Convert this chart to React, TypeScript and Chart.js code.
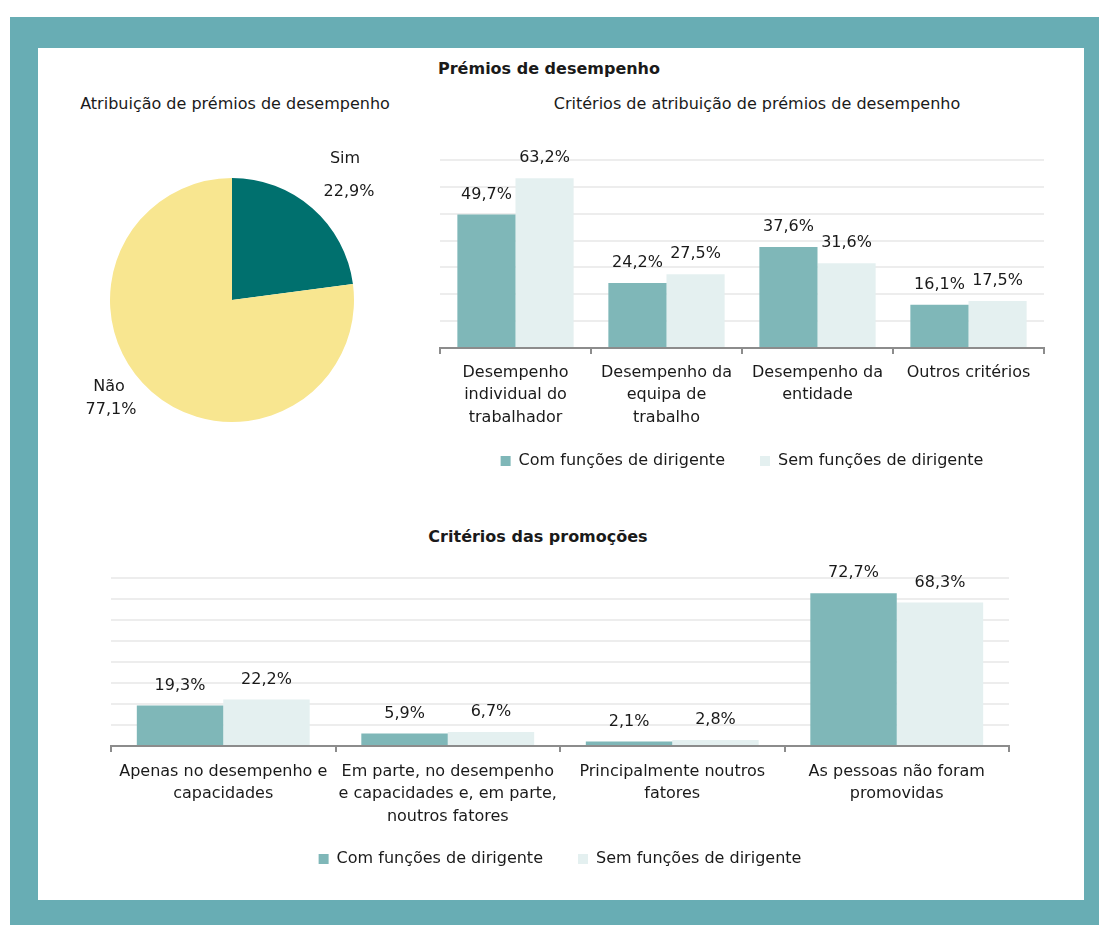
import React, { useEffect, useRef } from "react";
import { Chart, registerables } from "chart.js";

Chart.register(...registerables);

const FONT = "'DejaVu Sans', Verdana, sans-serif";
Chart.defaults.font.family = FONT;
Chart.defaults.font.size = 16;
Chart.defaults.color = "#1a1a1a";

// ---- Data ----
const pieLabels = ["Sim", "Não"];
const pieValues = [22.9, 77.1];

const premiosCategories = [
  ["Desempenho", "individual do", "trabalhador"],
  ["Desempenho da", "equipa de", "trabalho"],
  ["Desempenho da", "entidade"],
  ["Outros critérios"],
];
const premiosCom = [49.7, 24.2, 37.6, 16.1];
const premiosSem = [63.2, 27.5, 31.6, 17.5];

const promoCategories = [
  ["Apenas no desempenho e", "capacidades"],
  ["Em parte, no desempenho", "e capacidades e, em parte,", "noutros fatores"],
  ["Principalmente noutros", "fatores"],
  ["As pessoas não foram", "promovidas"],
];
const promoCom = [19.3, 5.9, 2.1, 72.7];
const promoSem = [22.2, 6.7, 2.8, 68.3];

const seriesNames = ["Com funções de dirigente", "Sem funções de dirigente"];

// ---- Colors ----
const COM = "#7fb7b8";
const SEM = "#e4f0f0";
const PIE_COLORS = ["#00706e", "#f8e690"];
const FRAME = "#68adb4";

const fmt = (v: number) => v.toFixed(1).replace(".", ",") + "%";

const barLabelPlugin = {
  id: "barLabels",
  afterDatasetsDraw(chart: any) {
    const ctx = chart.ctx;
    ctx.save();
    ctx.font = `16px ${FONT}`;
    ctx.fillStyle = "#1a1a1a";
    ctx.textAlign = "center";
    ctx.textBaseline = "middle";
    chart.data.datasets.forEach((ds: any, di: number) => {
      const meta = chart.getDatasetMeta(di);
      meta.data.forEach((bar: any, i: number) => {
        ctx.fillText(fmt(ds.data[i]), bar.x, bar.y - 20);
      });
    });
    ctx.restore();
  },
};

// moves the legend up a little after layout (legend padding also sets the item gap)
const legendShiftPlugin = {
  id: "legendShift",
  afterLayout(chart: any, _args: any, opts: any) {
    const lg = chart.legend;
    if (lg && opts && opts.shift) {
      lg.top -= opts.shift;
      lg.bottom -= opts.shift;
    }
  },
};

const pieLabelPlugin = {
  id: "pieLabels",
  afterDatasetsDraw(chart: any, _args: any, opts: any) {
    const ctx = chart.ctx;
    const meta = chart.getDatasetMeta(0);
    ctx.save();
    ctx.font = `16px ${FONT}`;
    ctx.fillStyle = "#1a1a1a";
    ctx.textAlign = "center";
    ctx.textBaseline = "middle";
    meta.data.forEach((arc: any, i: number) => {
      const mid = (arc.startAngle + arc.endAngle) / 2;
      const r = arc.outerRadius + opts.offset;
      const adj = opts.adjust[i];
      const cx = arc.x + Math.cos(mid) * r + adj.dx;
      const cy = arc.y + Math.sin(mid) * r + adj.dy;
      const gap = adj.gap;
      ctx.fillText(chart.data.labels[i], cx + adj.nameDx, cy - gap / 2);
      ctx.fillText(fmt(chart.data.datasets[0].data[i]), cx, cy + gap / 2);
    });
    ctx.restore();
  },
};

function PieChart() {
  const ref = useRef<HTMLCanvasElement>(null);
  useEffect(() => {
    const chart = new Chart(ref.current!, {
      type: "pie",
      data: {
        labels: pieLabels,
        datasets: [{ data: pieValues, backgroundColor: PIE_COLORS, borderWidth: 0 }],
      },
      options: {
        animation: false,
        responsive: false,
        maintainAspectRatio: false,
        layout: { padding: 48 },
        plugins: {
          legend: { display: false },
          tooltip: { enabled: false },
          pieLabels: {
            offset: 48,
            adjust: [
              { dx: 5, dy: 3, gap: 33, nameDx: -4 },
              { dx: -9, dy: -30, gap: 23, nameDx: -2 },
            ],
          },
        } as any,
      },
      plugins: [pieLabelPlugin],
    });
    return () => chart.destroy();
  }, []);
  return <canvas ref={ref} width={340} height={340} />;
}

function BarWrapper(props: any) {
  const ref = useRef<HTMLCanvasElement>(null);
  useEffect(() => {
    const chart = new Chart(ref.current!, {
      type: "bar",
      data: {
        labels: props.categories,
        datasets: [
          { label: seriesNames[0], data: props.com, backgroundColor: COM, borderWidth: 0 },
          { label: seriesNames[1], data: props.sem, backgroundColor: SEM, borderWidth: 0 },
        ],
      },
      options: {
        animation: false,
        responsive: false,
        maintainAspectRatio: false,
        layout: { padding: props.padding },
        datasets: { bar: { categoryPercentage: 0.77, barPercentage: 1 } },
        plugins: {
          legend: {
            position: "bottom",
            labels: {
              boxWidth: 10,
              boxHeight: 10,
              padding: 35,
              font: { size: 16, family: FONT },
              color: "#1a1a1a",
            },
          },
          legendShift: { shift: props.legendShift },
          tooltip: { enabled: false },
          title: { display: false },
        } as any,
        scales: {
          x: {
            grid: {
              display: true,
              drawOnChartArea: false,
              drawTicks: true,
              tickLength: 6,
              color: "#8c8c8c",
              lineWidth: 2,
            },
            border: { display: true, color: "#8c8c8c", width: 2 },
            ticks: {
              padding: props.tickPad,
              font: { size: 16, family: FONT, lineHeight: 1.42 },
              color: "#1a1a1a",
              maxRotation: 0,
              autoSkip: false,
            },
            afterFit: (s: any) => {
              s.height = props.axisHeight;
            },
          },
          y: {
            min: 0,
            max: props.max,
            ticks: { display: false, stepSize: 10 },
            border: { display: false },
            grid: { color: "#ededed", lineWidth: 2, drawTicks: false },
            afterFit: (s: any) => {
              s.width = 0;
            },
          },
        },
      },
      plugins: [barLabelPlugin, legendShiftPlugin],
    });
    return () => chart.destroy();
  }, []);
  return <canvas ref={ref} width={props.w} height={props.h} />;
}

const abs = (left: number, top: number, width: number, height: number): React.CSSProperties => ({
  position: "absolute",
  left,
  top,
  width,
  height,
});

const titleStyle = (cx: number, cy: number, bold: boolean): React.CSSProperties => ({
  position: "absolute",
  left: cx - 300,
  top: cy - 10,
  width: 600,
  height: 20,
  lineHeight: "20px",
  textAlign: "center",
  fontFamily: FONT,
  fontSize: 16,
  fontWeight: bold ? "bold" : "normal",
  color: "#1a1a1a",
  whiteSpace: "nowrap",
});

export default function App() {
  return (
    <div style={{ position: "absolute", left: 0, top: 0, width: 1099, height: 925, background: "#fff", overflow: "hidden" }}>
      <div style={{ ...abs(10, 17, 1089, 908), background: FRAME }} />
      <div style={{ ...abs(38, 48, 1046, 852), background: "#fff" }} />
      <div style={titleStyle(549, 69, true)}>Prémios de desempenho</div>
      <div style={titleStyle(235, 104, false)}>Atribuição de prémios de desempenho</div>
      <div style={titleStyle(757, 104, false)}>Critérios de atribuição de prémios de desempenho</div>
      <div style={titleStyle(538, 537, true)}>Critérios das promoções</div>
      <div style={abs(62, 130, 340, 340)}>
        <PieChart />
      </div>
      <div style={abs(430, 130, 630, 362)}>
        <BarWrapper
          w={630}
          h={362}
          categories={premiosCategories}
          com={premiosCom}
          sem={premiosSem}
          max={70}
          padding={{ left: 10, right: 16, top: 30, bottom: 1 }}
          axisHeight={82}
          tickPad={7}
          legendShift={12}
        />
      </div>
      <div style={abs(101, 560, 918, 332)}>
        <BarWrapper
          w={918}
          h={332}
          categories={promoCategories}
          com={promoCom}
          sem={promoSem}
          max={80}
          padding={{ left: 10, right: 10, top: 18, bottom: 1 }}
          axisHeight={84}
          tickPad={8}
          legendShift={14}
        />
      </div>
    </div>
  );
}
